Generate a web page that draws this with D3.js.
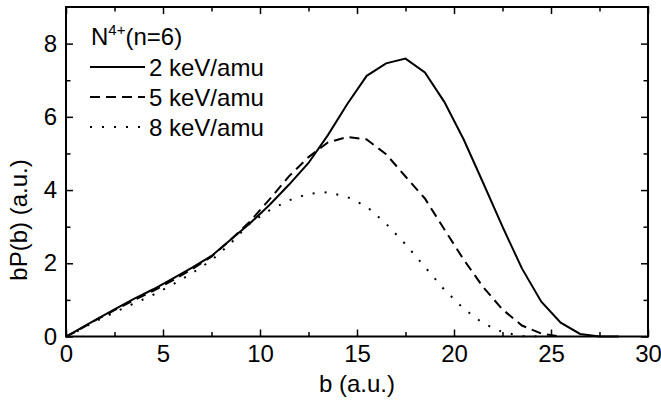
<!DOCTYPE html>
<html lang="en">
<head>
    <meta charset="UTF-8">
    <title>bP(b) vs b</title>
    <script src="https://cdn.jsdelivr.net/npm/d3@7"></script>
    <style>
        body {
            margin: 0;
            background: #fff;
        }
        svg text {
            font-family: "Liberation Sans", Arial, sans-serif;
            font-size: 24px;
            fill: #000;
        }
        .curve {
            fill: none;
            stroke: #000;
            stroke-width: 2px;
        }
    </style>
</head>
<body>
    <svg id="chart" width="661" height="400"></svg>

    <script>
        // impact parameter b (a.u.)
        const bValues = [0, 0.5, 1.5, 2.5, 3.5, 4.5, 5.5, 6.5, 7.5, 8.5, 9.5, 10.5, 11.5, 12.5, 13.5, 14.5,
                         15.5, 16.5, 17.5, 18.5, 19.5, 20.5, 21.5, 22.5, 23.5, 24.5, 25.5, 26.5, 27.5, 28.5];

        // bP(b) for each energy
        const kev2 = [0, 0.15, 0.45, 0.74, 1.03, 1.29, 1.58, 1.88, 2.2, 2.65, 3.1, 3.6, 4.15, 4.74, 5.5, 6.35,
                      7.12, 7.46, 7.59, 7.21, 6.41, 5.38, 4.2, 3.0, 1.86, 0.95, 0.38, 0.07, 0.0, 0.0];
        const kev5 = [0, 0.13, 0.44, 0.72, 0.99, 1.25, 1.53, 1.84, 2.18, 2.65, 3.15, 3.75, 4.38, 4.9, 5.3, 5.45,
                      5.38, 4.98, 4.37, 3.77, 2.93, 2.1, 1.35, 0.74, 0.3, 0.08, 0.0];
        const kev8 = [0, 0.12, 0.41, 0.66, 0.9, 1.14, 1.42, 1.73, 2.08, 2.55, 3.1, 3.45, 3.72, 3.9, 3.94, 3.81,
                      3.55, 3.08, 2.52, 1.9, 1.28, 0.76, 0.36, 0.12, 0.01, 0.0];

        const seriesNames = ["2 keV/amu", "5 keV/amu", "8 keV/amu"];
        const seriesValues = [kev2, kev5, kev8];
        const dashes = [null, "10,6", "2,10"];

        const xTicks = [0, 5, 10, 15, 20, 25, 30];
        const yTicks = [0, 2, 4, 6, 8];

        const margin = { top: 7, right: 13, bottom: 63.5, left: 66 },
              width = 661 - margin.left - margin.right,
              height = 400 - margin.top - margin.bottom;

        const svg = d3.select("#chart");
        const g = svg.append("g").attr("transform", `translate(${margin.left},${margin.top})`);

        const x = d3.scaleLinear().domain([0, 30]).range([0, width]);
        const y = d3.scaleLinear().domain([0, 9]).range([height, 0]);

        // curves
        const line = d3.line()
            .x(d => x(d[0]))
            .y(d => y(d[1]));

        seriesValues.forEach((vals, i) => {
            g.append("path")
                .attr("class", "curve")
                .attr("d", line(vals.map((v, j) => [bValues[j], v])))
                .attr("stroke-dasharray", dashes[i]);
        });

        // axes: major ticks inward, minor inward shorter, mirrored on top/right
        function styleAxis(sel) {
            sel.select(".domain").remove();
            sel.selectAll("line").attr("stroke", "#000").attr("stroke-width", 1.5);
            sel.selectAll("text").attr("fill", "#000").attr("font-size", null).attr("font-family", null);
        }

        const xMinor = d3.range(0, 30.01, 2.5).filter(v => v % 5 !== 0);
        const yMinor = d3.range(1, 9, 2);

        g.append("g").attr("transform", `translate(0,${height})`)
            .call(d3.axisBottom(x).tickValues(xTicks).tickSize(-7).tickPadding(8).tickFormat(d3.format("d")))
            .call(styleAxis);
        g.append("g").attr("transform", `translate(0,${height})`)
            .call(d3.axisBottom(x).tickValues(xMinor).tickSize(-4.5).tickFormat(""))
            .call(styleAxis);

        g.append("g")
            .call(d3.axisTop(x).tickValues(xTicks).tickSize(-7).tickFormat(""))
            .call(styleAxis);
        g.append("g")
            .call(d3.axisTop(x).tickValues(xMinor).tickSize(-4.5).tickFormat(""))
            .call(styleAxis);

        g.append("g")
            .call(d3.axisLeft(y).tickValues(yTicks).tickSize(-7).tickPadding(9).tickFormat(d3.format("d")))
            .call(styleAxis);
        g.append("g")
            .call(d3.axisLeft(y).tickValues(yMinor).tickSize(-4.5).tickFormat(""))
            .call(styleAxis);

        g.append("g").attr("transform", `translate(${width},0)`)
            .call(d3.axisRight(y).tickValues(yTicks).tickSize(-7).tickFormat(""))
            .call(styleAxis);
        g.append("g").attr("transform", `translate(${width},0)`)
            .call(d3.axisRight(y).tickValues(yMinor).tickSize(-4.5).tickFormat(""))
            .call(styleAxis);

        // frame
        g.append("rect")
            .attr("x", 0).attr("y", 0)
            .attr("width", width).attr("height", height)
            .attr("fill", "none").attr("stroke", "#000").attr("stroke-width", 2);

        // axis titles
        svg.append("text")
            .attr("x", margin.left + width / 2)
            .attr("y", 392)
            .attr("text-anchor", "middle")
            .text("b (a.u.)");

        svg.append("text")
            .attr("transform", "translate(27,220) rotate(-90)")
            .attr("text-anchor", "middle")
            .text("bP(b) (a.u.)");

        // legend
        const legend = svg.append("g").attr("transform", "translate(90,0)");
        const head = legend.append("text").attr("x", 1).attr("y", 45);
        head.append("tspan").text("N");
        head.append("tspan").attr("dy", -10).style("font-size", "15px").text("4+");
        head.append("tspan").attr("dy", 10).text("(n=6)");

        const rowY = [67, 97, 127];
        seriesNames.forEach((name, i) => {
            legend.append("line")
                .attr("x1", 0).attr("x2", 55)
                .attr("y1", rowY[i]).attr("y2", rowY[i])
                .attr("stroke", "#000").attr("stroke-width", 2)
                .attr("stroke-dasharray", dashes[i]);
            legend.append("text")
                .attr("x", 59).attr("y", rowY[i] + 8.5)
                .text(name);
        });
    </script>
</body>
</html>
